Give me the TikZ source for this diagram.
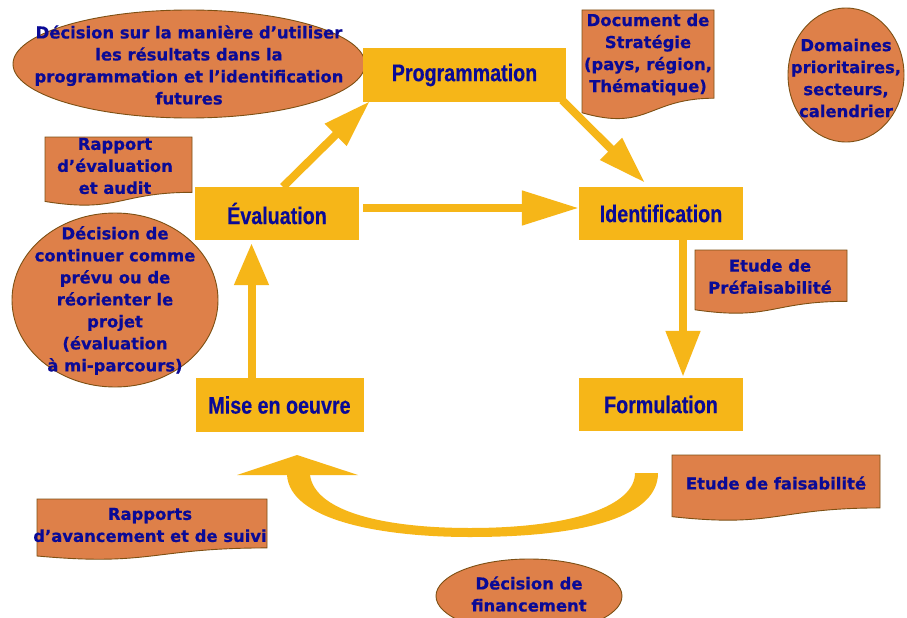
\documentclass[tikz,border=0pt]{standalone}
\usepackage{fontspec}
\usetikzlibrary{arrows.meta}
\newfontfamily\cfont{DejaVu Sans}[BoldFont={DejaVu Sans Bold},BoldFeatures={FakeBold=0.6}]
\newfontfamily\bfont{Liberation Sans}[FakeStretch=0.82,BoldFeatures={FakeBold=0.5}]
\definecolor{boxyellow}{RGB}{246,182,24}
\definecolor{callfill}{RGB}{222,128,73}
\definecolor{callline}{RGB}{125,80,20}
\definecolor{txtblue}{RGB}{10,10,150}
\newcommand\docshape[4]{%
 \draw[callout] (#1,#2) -- (#1+#3,#2) -- (#1+#3,#2+0.802*#4) .. controls (#1+0.5*#3,#2+0.802*#4) and (#1+0.5*#3,#2+1.1075*#4) .. (#1,#2+0.934*#4) -- cycle;}
\begin{document}
\begin{tikzpicture}[x=1pt,y=-1pt,
  mainbox/.style={fill=boxyellow,draw=none,inner sep=0pt,text=txtblue,font={\bfont\bfseries\fontsize{24}{28}\selectfont}},
  callout/.style={fill=callfill,draw=callline,line width=0.9pt},
  ctext/.style={text=txtblue,align=center,inner sep=0pt,font={\cfont\bfseries\fontsize{16.4}{22}\selectfont}},
  bigarrow/.style={draw=boxyellow,line width=8pt,line cap=butt,-{Triangle[width=33pt,length=46pt]}}]
\useasboundingbox (0,0) rectangle (907,618);
\clip (0,0) rectangle (907,618);
\fill[white] (0,0) rectangle (907,618);
% callout shapes
\draw[callout] (189,64) ellipse [x radius=176, y radius=54];
\draw[callout] (115,300) ellipse [x radius=103, y radius=87];
\draw[callout] (846,75) ellipse [x radius=58, y radius=67];
\draw[callout] (529,596) ellipse [x radius=93, y radius=37];
\docshape{582}{10}{132}{110}
\docshape{45}{137}{147}{69}
\docshape{695}{250}{152}{64}
\docshape{672}{455}{208}{66}
\docshape{37}{499}{230}{61}
% callout texts
\node[ctext] (t1) at (189,65) {Décision sur la manière d’utiliser\\les résultats dans la\\programmation et l’identification\\futures};
\node[ctext] (t2) at (648,54.5) {Document de\\Stratégie\\(pays, région,\\Thématique)};
\node[ctext] (t3) at (846,78) {Domaines\\prioritaires,\\secteurs,\\calendrier};
\node[ctext] (t4) at (115,166) {Rapport\\d’évaluation\\et audit};
\node[ctext] (t5) at (115,300.5) {Décision de\\continuer comme\\prévu ou de\\réorienter le\\projet\\(évaluation\\à mi-parcours)};
\node[ctext] (t6) at (770,276.5) {Etude de\\Préfaisabilité};
\node[ctext] (t7) at (776,483) {Etude de faisabilité};
\node[ctext] (t8) at (150,525) {Rapports\\d’avancement et de suivi};
\node[ctext] (t9) at (529,594) {Décision de\\financement};
% main boxes
\node[mainbox,minimum width=203pt,minimum height=54pt] (prog) at (464.5,75) {Programmation};
\node[mainbox,minimum width=164pt,minimum height=53pt] (eval) at (277,213.5) {Évaluation};
\node[mainbox,minimum width=164pt,minimum height=53pt] (ident) at (661,213.5) {Identification};
\node[mainbox,minimum width=164pt,minimum height=53pt] (form) at (661,404.5) {Formulation};
\node[mainbox,minimum width=168pt,minimum height=54pt] (mise) at (279.5,405) {Mise en oeuvre};
% straight arrows
\draw[bigarrow,-{Triangle[width=29pt,length=48pt]}] ([xshift=6pt]eval.north) -- ([xshift=7pt,yshift=1pt]prog.south west);
\draw[bigarrow,-{Triangle[width=29pt,length=48pt]}] ([xshift=-4pt,yshift=2pt]prog.south east) -- ([xshift=-16pt,yshift=4pt]ident.north);
\draw[bigarrow,-{Triangle[width=33pt,length=57pt]}] ([xshift=4pt,yshift=5.5pt]eval.east) -- ([yshift=5.5pt]ident.west);
\draw[bigarrow] ([xshift=22pt]ident.south) -- ([xshift=22pt,yshift=1pt]form.north);
\draw[bigarrow,-{Triangle[width=33pt,length=42pt]}] ([xshift=-28pt]mise.north) -- ([xshift=-25.5pt,yshift=-3pt]eval.south);
% curved arrow
\coordinate (cr) at (646,473);
\coordinate (ctip) at (297,455);
\fill[boxyellow] (287,475) .. controls (290,520) and (380,537) .. (470,537) .. controls (590,537) and (658,515) .. (658,473) -- (635,473) .. controls (635,505) and (575,528) .. (470,528) .. controls (385,528) and (315,512) .. (310,475) -- cycle;
\fill[boxyellow] (ctip) -- (358,475) -- (237,475) -- cycle;
\end{tikzpicture}
\end{document}
